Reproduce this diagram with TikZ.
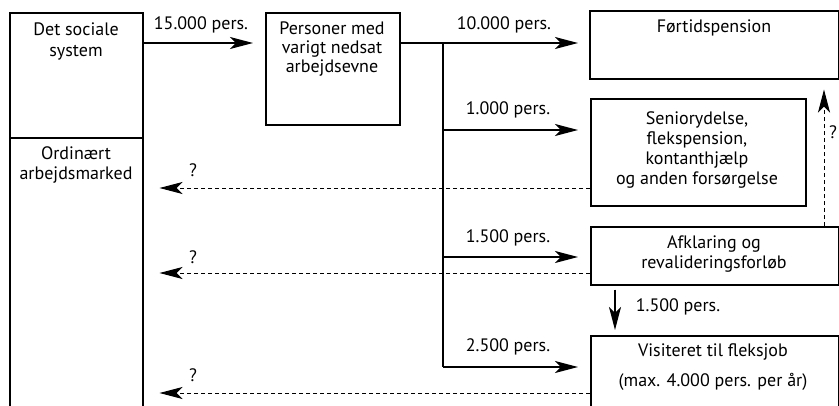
\documentclass[tikz,border=0pt]{standalone}
\usepackage{fontspec}
\setmainfont{PT Sans}
\usetikzlibrary{arrows.meta}
\begin{document}
\begin{tikzpicture}[x=1pt,y=-1pt,
  box/.style={draw, line width=1.5pt, inner sep=0pt, anchor=north west},
  txt/.style={font=\fontsize{18}{20}\selectfont, align=center, inner sep=0pt},
  lab/.style={font=\fontsize{18}{20}\selectfont, inner sep=0pt},
  flow/.style={line width=1.4pt, -{Stealth[length=23pt,width=12pt,inset=6pt]}},
  back/.style={line width=1pt, dash pattern=on 4pt off 3pt, -{Stealth[length=23pt,width=12pt,inset=6pt]}},
  plain/.style={line width=1.4pt},
]
\useasboundingbox (0,0) rectangle (839,405);
\clip (0,0) rectangle (839,405);
% boxes
\node[box, minimum width=133pt, minimum height=125pt] (ds) at (9,12) {};
\node[box, minimum width=133pt, minimum height=293pt] (om) at (9,137) {};
\node[box, minimum width=134pt, minimum height=112pt] (pm) at (265,12) {};
\node[box, minimum width=249pt, minimum height=68pt] (ft) at (589,10) {};
\node[box, minimum width=215pt, minimum height=107pt] (sen) at (590,98) {};
\node[box, minimum width=248pt, minimum height=58pt] (af) at (590,226) {};
\node[box, minimum width=248pt, minimum height=95pt] (vis) at (590,335) {};
% box texts
\node[txt, font=\fontsize{18}{21}\selectfont] (dst) at (76,41) {Det sociale\\system};
\node[txt] (omt) at (76,165) {Ordinært\\arbejdsmarked};
\node[txt, font=\fontsize{18}{19}\selectfont] (pmt) at (332,49) {Personer med\\varigt nedsat\\arbejdsevne};
\node[txt] (ftt) at (714,28) {Førtidspension};
\node[txt] (sent) at (697,150) {Seniorydelse,\\flekspension,\\kontanthjælp\\og anden forsørgelse};
\node[txt] (aft) at (714,254) {Afklaring og\\revalideringsforløb};
\node[txt] (vist1) at (713,352) {Visiteret til fleksjob};
\node[txt] (vist2) at (713,382) {(max. 4.000 pers. per år)};
% labels
\node[lab] (l15) at (201,25) {15.000 pers.};
\node[lab] (l10) at (504,25) {10.000 pers.};
\node[lab] (l1) at (508,110) {1.000 pers.};
\node[lab] (l15b) at (508,238) {1.500 pers.};
\node[lab] (l25) at (508,347) {2.500 pers.};
\node[lab] (l15c) at (678,307) {1.500 pers.};
\node[lab] (q1) at (193,170) {?};
\node[lab] (q2) at (193,257) {?};
\node[lab] (q3) at (193,375) {?};
\node[lab] (q4) at (833,132) {?};
% coordinates
\coordinate (r1) at (0,43);
\coordinate (r2) at (0,130);
\coordinate (r3) at (0,257);
\coordinate (j) at (443,43);
\coordinate (jb) at (443,367);
\coordinate (d1) at (0,188);
\coordinate (d2) at (0,273);
\coordinate (d3) at (0,393);
\coordinate (v) at (824,0);
\coordinate (dn) at (615,0);
% connectors
\draw[flow, shorten >=12pt] (ds.east |- r1) -- (pm.west |- r1);
\draw[plain, line cap=butt] (pm.east |- j) -- (j);
\draw[plain, line join=miter] (j) -- (jb);
\draw[flow, shorten >=11pt] (j) -- (ft.west |- j);
\draw[flow, shorten >=12pt] (j |- r2) -- (sen.west |- r2);
\draw[flow, shorten >=12pt] (j |- r3) -- (af.west |- r3);
\draw[flow, shorten >=12pt] (jb) -- (vis.west |- jb);
\draw[back, shorten >=16pt] (sen.west |- d1) -- (om.east |- d1);
\draw[back, shorten >=16pt] (af.west |- d2) -- (om.east |- d2);
\draw[back, shorten >=16pt] (vis.west |- d3) -- (om.east |- d3);
\draw[back, shorten >=10pt] (af.north -| v) -- (ft.south -| v);
\draw[flow, shorten <=4pt, shorten >=5pt] (af.south -| dn) -- (vis.north -| dn);
\end{tikzpicture}
\end{document}
